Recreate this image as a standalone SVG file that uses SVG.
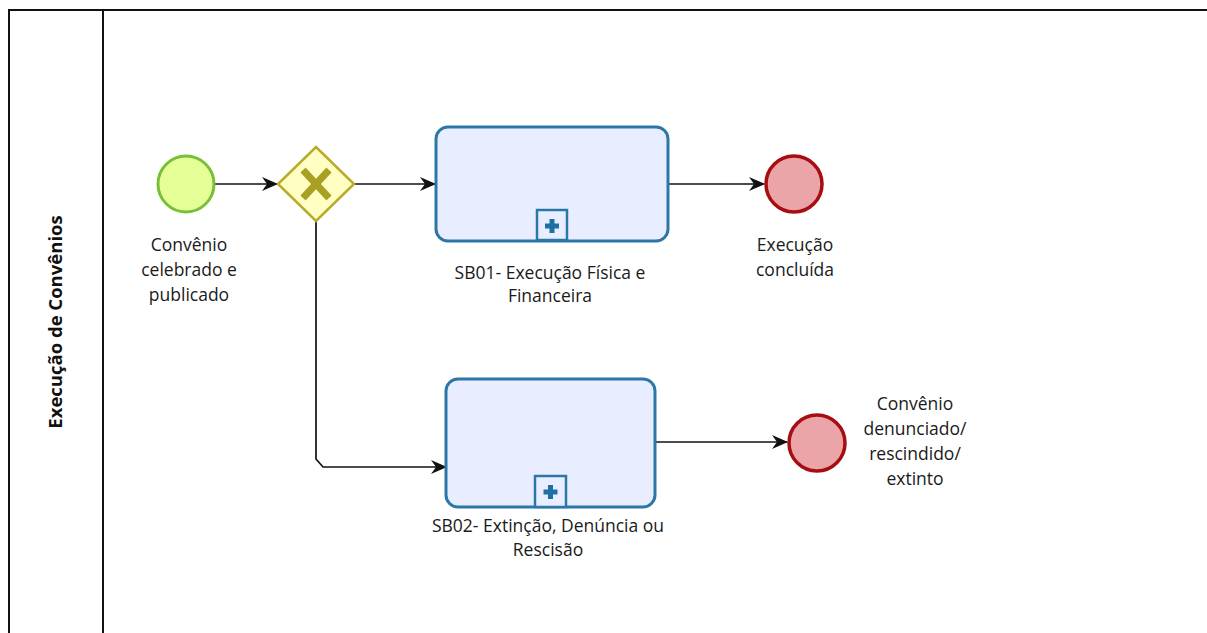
<svg xmlns="http://www.w3.org/2000/svg" width="1207" height="633" viewBox="0 0 1207 633">
<defs>
<style>
.lbl{font-family:"Open Sans","DejaVu Sans",sans-serif;font-size:17.5px;fill:#1a1a1a;text-anchor:middle}
.flow{fill:none;stroke:#111;stroke-width:1.7}
.task{fill:#E8EEFF;stroke:#2C77A8;stroke-width:3}
.mk{fill:#E8EEFF;stroke:#2C77A8;stroke-width:2.5}
.end{fill:#EBA4A8;stroke:#A50E12;stroke-width:3.5}
</style>
<marker id="arr" viewBox="0 0 16 14" refX="15" refY="7" markerWidth="16" markerHeight="14" markerUnits="userSpaceOnUse" orient="auto">
<path d="M0,0 L16,7 L0,14 L5,7 z" fill="#111"/>
</marker>
<g id="plus"><path d="M-2.5,-7 h5 v4.5 h4.5 v5 h-4.5 v4.5 h-5 v-4.5 h-4.5 v-5 h4.5 z" fill="#1E6FA3"/></g>
</defs>
<rect width="1207" height="633" fill="#fff"/>
<g id="pool">
<path d="M1207,10 H9 V633" fill="none" stroke="#111" stroke-width="2"/>
<line x1="103" y1="10" x2="103" y2="633" stroke="#111" stroke-width="2"/>
<text transform="translate(62,322) rotate(-90)" style="font-family:'Open Sans','DejaVu Sans',sans-serif;font-size:18.5px;font-weight:bold;fill:#111;text-anchor:middle">Execução de Convênios</text>
</g>
<g id="connectors">
<path class="flow" d="M215,184 H277" marker-end="url(#arr)"/>
<path class="flow" d="M355,184 H435" marker-end="url(#arr)"/>
<path class="flow" d="M668,184 H764" marker-end="url(#arr)"/>
<path class="flow" d="M316,221 V459 L323,467 H446" marker-end="url(#arr)"/>
<path class="flow" d="M655,442 H787" marker-end="url(#arr)"/>
</g>
<g id="start">
<circle cx="186" cy="184" r="28" fill="#E6FF97" stroke="#79C039" stroke-width="3"/>
<text class="lbl"><tspan x="189" y="251">Convênio</tspan><tspan x="189" y="276">celebrado e</tspan><tspan x="189" y="301">publicado</tspan></text>
</g>
<g id="gateway">
<path d="M316,147 L354,184 L316,221 L278,184 z" fill="#FFFFC4" stroke="#B8AC2C" stroke-width="2.5"/>
<path d="M303,170 L329,198 M329,170 L303,198" stroke="#A99F22" stroke-width="7" stroke-linecap="butt"/>
</g>
<g id="sb01">
<rect class="task" x="436" y="127" width="232" height="114" rx="12"/>
<rect class="mk" x="537" y="210" width="30" height="30"/>
<use href="#plus" x="552" y="226"/>
<text class="lbl"><tspan x="550" y="279">SB01- Execução Física e</tspan><tspan x="550" y="302">Financeira</tspan></text>
</g>
<g id="end1">
<circle class="end" cx="794" cy="184" r="28"/>
<text class="lbl"><tspan x="795" y="251">Execução</tspan><tspan x="795" y="276">concluída</tspan></text>
</g>
<g id="sb02">
<rect class="task" x="446" y="379" width="209" height="128" rx="12"/>
<rect class="mk" x="535" y="476" width="31" height="31"/>
<use href="#plus" x="550.5" y="492"/>
<text class="lbl"><tspan x="548" y="532">SB02- Extinção, Denúncia ou</tspan><tspan x="548" y="556">Rescisão</tspan></text>
</g>
<g id="end2">
<circle class="end" cx="817" cy="443" r="28"/>
<text class="lbl"><tspan x="915" y="410">Convênio</tspan><tspan x="915" y="435">denunciado/</tspan><tspan x="915" y="460">rescindido/</tspan><tspan x="915" y="485">extinto</tspan></text>
</g>
</svg>
